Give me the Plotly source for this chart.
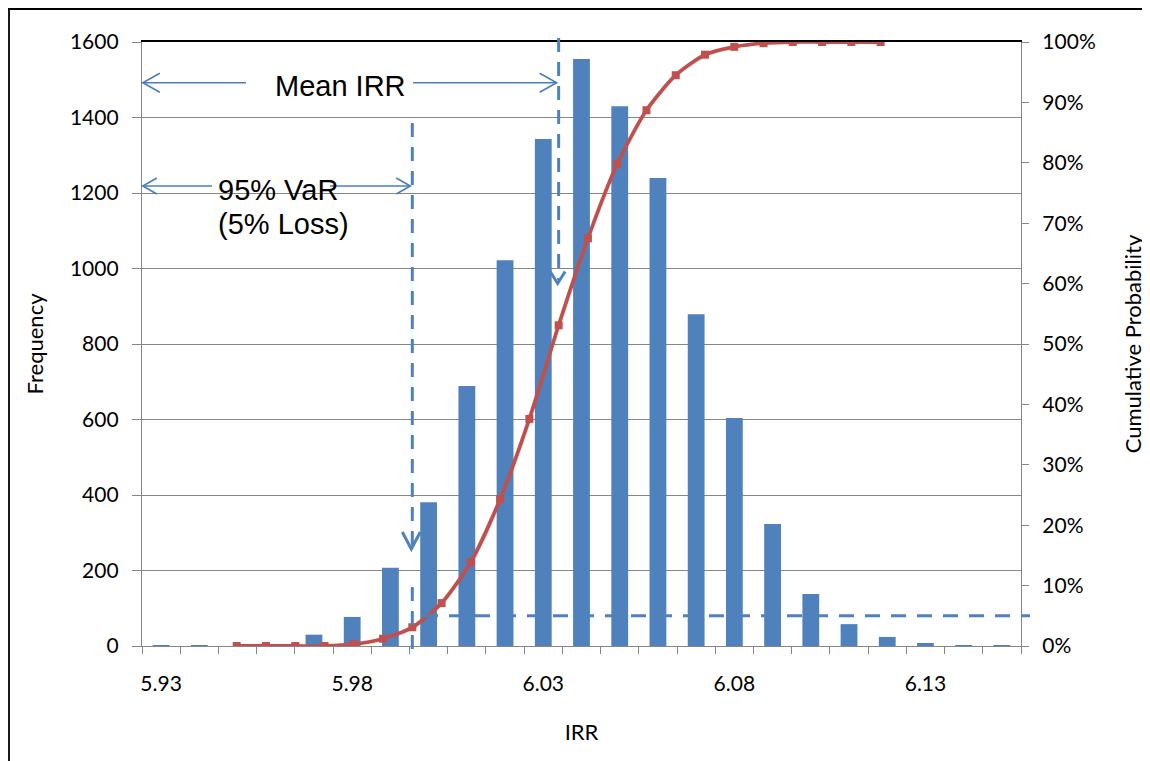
import plotly.graph_objects as go

# ---------------- data ----------------
irr_bins = ["5.93", "5.94", "5.95", "5.96", "5.97", "5.98", "5.99", "6.00", "6.01", "6.02",
            "6.03", "6.04", "6.05", "6.06", "6.07", "6.08", "6.09", "6.10", "6.11", "6.12",
            "6.13", "6.14", "6.15"]
frequency = [2, 1, 0, 0, 30, 77, 207, 381, 689, 1022, 1343, 1555, 1430, 1240, 879, 604,
             323, 138, 58, 24, 8, 1, 1]
cum_irr = [5.93, 5.94, 5.95, 5.96, 5.97, 5.98, 5.99, 6.00, 6.01, 6.02, 6.03, 6.04, 6.05,
           6.06, 6.07, 6.08, 6.09, 6.10, 6.11, 6.12, 6.13, 6.14, 6.15]
cum_prob = [0.0, 0.0, 0.0, 0.0, 0.003, 0.012, 0.031, 0.071, 0.139, 0.243, 0.376, 0.531,
            0.675, 0.798, 0.887, 0.945, 0.979, 0.992, 0.998, 1.0, 1.0, 1.0, 1.0]
x_tick_text = ["5.93", "", "", "", "", "5.98", "", "", "", "", "6.03", "", "", "", "",
               "6.08", "", "", "", "", "6.13", "", ""]
mean_irr = 6.04
var_95 = 5.99
var_level = 0.05

# ---------------- geometry helpers (window pixels; page body has an 8px margin) ----------------
OFF = 8
W_FIG, H_FIG = 1150 - OFF, 761 - OFF
L, R, T, B = 142, 1021, 42, 646          # plot area in window pixels
PW, PH = R - L, B - T
X2_MIN, X2_MAX = 5.89765, 6.19796


def px(x):
    return (x - L) / PW


def py(y):
    return (B - y) / PH


def x2_to_px(v):
    return L + PW * (v - X2_MIN) / (X2_MAX - X2_MIN)


BAR_C = "#4F81BD"
LINE_C = "#C0504D"
GRID_C = "#868686"
ANN_C = "#4A7EBB"
TICK_FONT = dict(family="Lato, Carlito, sans-serif", size=21, color="black")
TITLE_FONT = dict(family="Lato, Carlito, sans-serif", size=22, color="black")
ANN_FONT = dict(family="Liberation Sans, Arial, sans-serif", size=29, color="black")

fig = go.Figure()
fig.add_trace(go.Bar(x=irr_bins, y=frequency, marker_color=BAR_C, marker_line_width=0,
                     xaxis="x", yaxis="y", name="Frequency"))
fig.add_trace(go.Scatter(x=cum_irr, y=cum_prob, mode="lines+markers",
                         line=dict(color=LINE_C, width=3.8, shape="spline", smoothing=0.7),
                         marker=dict(symbol="square", size=8, color=LINE_C),
                         xaxis="x2", yaxis="y2", name="Cumulative"))

shapes = []
dash = "14px,10px"
# mean vertical dashed arrow
mx = x2_to_px(mean_irr) - 1
shapes.append(dict(type="line", xref="x2", yref="paper", x0=mean_irr, x1=mean_irr,
                   y0=py(38), y1=py(280), line=dict(color=BAR_C, width=3, dash=dash)))
shapes.append(dict(type="path", xref="paper", yref="paper",
                   path=f"M{px(mx-7.5)},{py(271.5)} L{px(mx)},{py(283.5)} L{px(mx+7.5)},{py(271.5)}",
                   line=dict(color=BAR_C, width=3)))
# VaR vertical dashed arrow
vx = x2_to_px(var_95) - 1
shapes.append(dict(type="line", xref="x2", yref="paper", x0=var_95, x1=var_95,
                   y0=py(123), y1=py(546), line=dict(color=BAR_C, width=3, dash=dash)))
shapes.append(dict(type="path", xref="paper", yref="paper",
                   path=f"M{px(vx-9)},{py(532)} L{px(vx)},{py(549)} L{px(vx+9)},{py(532)}",
                   line=dict(color=BAR_C, width=3)))
shapes.append(dict(type="line", xref="x2", yref="paper", x0=var_95, x1=var_95,
                   y0=py(587), y1=py(655), line=dict(color=BAR_C, width=3, dash=dash)))
# 5% horizontal dashed line
shapes.append(dict(type="line", xref="paper", yref="y2", x0=px(423), x1=px(1030),
                   y0=var_level, y1=var_level, line=dict(color=BAR_C, width=3, dash="15px,11px")))


def harrow(x_from, x_to, y, back, half):
    d = 1 if x_to > x_from else -1
    out = [dict(type="line", xref="paper", yref="paper", x0=px(x_from), x1=px(x_to),
                y0=py(y), y1=py(y), line=dict(color=ANN_C, width=1.6))]
    out.append(dict(type="path", xref="paper", yref="paper",
                    path=f"M{px(x_to - d*back)},{py(y-half)} L{px(x_to)},{py(y)} L{px(x_to - d*back)},{py(y+half)}",
                    line=dict(color=ANN_C, width=1.6)))
    return out


shapes += harrow(246, 142.8, 82.7, 17, 9.5)
shapes += harrow(413, x2_to_px(mean_irr) - 2, 82.7, 17, 9.5)
shapes += harrow(212, 142.8, 186, 14, 8)
shapes += harrow(330, x2_to_px(var_95) - 2, 186, 14, 8)

# outer frame
shapes.append(dict(type="line", xref="paper", yref="paper", x0=px(8), x1=px(1160),
                   y0=py(9), y1=py(9), line=dict(color="black", width=1.8)))
shapes.append(dict(type="line", xref="paper", yref="paper", x0=px(9), x1=px(9),
                   y0=py(8), y1=py(770), line=dict(color="black", width=1.8)))

annotations = [
    dict(text="Mean IRR", x=px(340), y=py(86), xref="paper", yref="paper",
         showarrow=False, font=ANN_FONT, xanchor="center", yanchor="middle"),
    dict(text="95% VaR", x=px(277.5), y=py(190), xref="paper", yref="paper",
         showarrow=False, font=ANN_FONT, xanchor="center", yanchor="middle"),
    dict(text="(5% Loss)", x=px(283.5), y=py(224), xref="paper", yref="paper",
         showarrow=False, font=ANN_FONT, xanchor="center", yanchor="middle"),
]

fig.update_layout(
    width=W_FIG, height=H_FIG,
    margin=dict(l=L - OFF, r=W_FIG - (R - OFF), t=T - OFF, b=H_FIG - (B - OFF), autoexpand=False),
    paper_bgcolor="white", plot_bgcolor="white",
    showlegend=False, bargap=0.56,
    shapes=shapes, annotations=annotations,
    xaxis=dict(type="category", tickmode="array", tickvals=irr_bins, ticktext=x_tick_text,
               tickson="boundaries", ticks="outside", ticklen=7, tickcolor=GRID_C, tickwidth=1.3,
               showline=True, linecolor=GRID_C, linewidth=1.3, showgrid=False, tickangle=0,
               tickfont=TICK_FONT, range=[-0.5, 22.5], ticklabelstandoff=19,
               title=dict(text="IRR", font=TITLE_FONT, standoff=30)),
    xaxis2=dict(type="linear", overlaying="x", side="top", range=[X2_MIN, X2_MAX],
                showline=True, linecolor="black", linewidth=1.8, showgrid=False,
                showticklabels=False, ticks="", zeroline=False),
    yaxis=dict(range=[0, 1600], dtick=200, tick0=0, showgrid=True, gridcolor=GRID_C, gridwidth=1.3,
               showline=True, linecolor=GRID_C, linewidth=1.3, ticks="outside", ticklen=9,
               tickcolor=GRID_C, tickwidth=1.3, tickfont=TICK_FONT, zeroline=False,
               ticklabelstandoff=9,
               title=dict(text="Frequency", font=TITLE_FONT, standoff=20)),
    yaxis2=dict(range=[0, 1], dtick=0.1, tick0=0, tickformat=".0%", overlaying="y", side="right",
                showgrid=False, showline=True, linecolor=GRID_C, linewidth=1.3, ticks="outside",
                ticklen=7, tickcolor=GRID_C, tickwidth=1.3, tickfont=TICK_FONT, zeroline=False,
                ticklabelstandoff=9,
                title=dict(text="Cumulative Probability", font=TITLE_FONT, standoff=30)),
)

fig.write_html("out.html")
